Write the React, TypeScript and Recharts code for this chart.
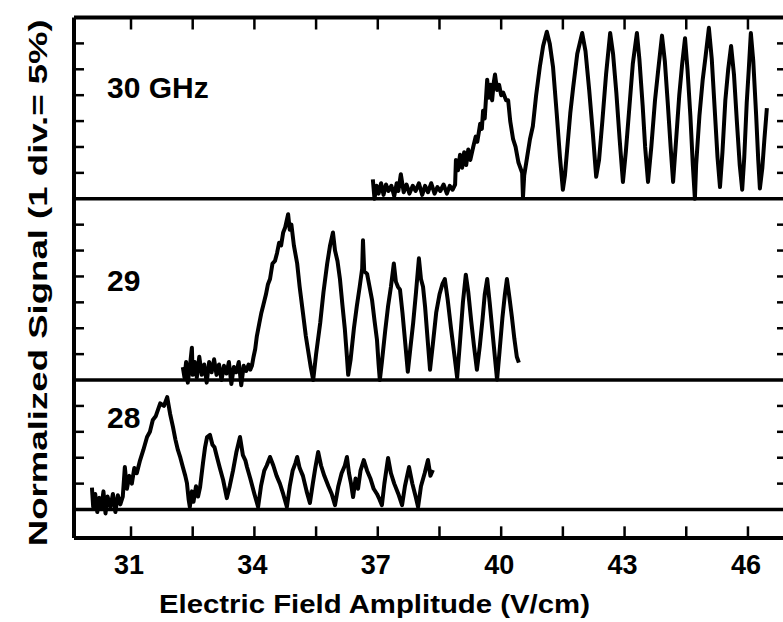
import { LineChart, Line, XAxis, YAxis, ReferenceLine, ReferenceDot } from "recharts";

const font = "'Liberation Sans', Arial, sans-serif";

// 30 GHz trace: field (V/cm) and signal (divisions above panel baseline)
const field30 = [
  36.88, 36.92, 36.97, 37.02, 37.08, 37.14, 37.2, 37.26, 37.33, 37.4, 37.46, 37.5, 37.56, 37.63, 37.7, 37.77,
  37.85, 37.92, 38.0, 38.08, 38.15, 38.22, 38.3, 38.38, 38.45, 38.52, 38.6, 38.68, 38.75, 38.82, 38.88,
  38.9, 38.95, 39.0, 39.05, 39.1, 39.15, 39.2, 39.25, 39.32, 39.38, 39.42, 39.49, 39.53, 39.56, 39.6, 39.66,
  39.7, 39.74, 39.78, 39.82, 39.85, 39.9, 39.95, 40.0, 40.05, 40.12, 40.17, 40.22, 40.29, 40.35, 40.42, 40.51,
  40.53, 40.56, 40.63, 40.7, 40.77, 40.85, 40.94, 41.02, 41.11, 41.18, 41.26, 41.35, 41.43, 41.5, 41.55, 41.62,
  41.68, 41.75, 41.85, 41.97, 42.05, 42.14, 42.23, 42.31, 42.38, 42.46, 42.55, 42.65, 42.72, 42.8, 42.88, 42.96,
  43.03, 43.12, 43.2, 43.3, 43.36, 43.44, 43.5, 43.57, 43.65, 43.74, 43.82, 43.91, 43.98, 44.05, 44.12, 44.18,
  44.25, 44.33, 44.4, 44.47, 44.53, 44.6, 44.66, 44.71, 44.74, 44.82, 44.9, 44.97, 45.05, 45.12, 45.19, 45.26,
  45.32, 45.38, 45.45, 45.52, 45.59, 45.66, 45.73, 45.8, 45.86, 45.91, 45.97, 46.02, 46.07, 46.13, 46.2, 46.25,
  46.29, 46.35, 46.4, 46.46,
];
const signal30 = [
  0.75, 0.0, 0.5, 0.2, 0.6, 0.15, 0.55, 0.3, 0.5, 0.1, 0.6, 0.3, 0.95, 0.25, 0.55, 0.2,
  0.5, 0.3, 0.6, 0.15, 0.5, 0.25, 0.6, 0.2, 0.45, 0.3, 0.55, 0.2, 0.5, 0.35, 0.55,
  1.5, 1.1, 1.7, 1.2, 1.8, 1.3, 1.9, 1.5, 2.0, 2.4, 2.2, 2.9, 2.7, 3.4, 3.1, 4.6,
  3.9, 4.4, 3.8, 4.5, 4.8, 4.2, 4.4, 4.0, 4.1, 3.8, 3.8, 3.0, 2.3, 2.0, 1.4, 1.0,
  0.05, 0.9, 1.6, 2.3, 2.8, 4.0, 5.1, 5.9, 6.45, 6.0, 5.1, 3.3, 1.6, 0.35, 0.9, 2.2,
  3.3, 4.3, 5.6, 6.4, 5.7, 4.2, 2.5, 0.85, 1.5, 3.0, 4.8, 6.4, 5.6, 4.1, 2.3, 0.65,
  1.8, 3.6, 5.2, 6.4, 5.4, 3.6, 2.0, 0.65, 2.0, 3.8, 5.0, 6.3, 5.3, 3.7, 2.0, 0.65,
  2.2, 4.0, 5.2, 6.2, 5.0, 3.2, 1.3, 0.0, 1.3, 3.2, 4.6, 5.5, 6.6, 5.4, 3.5, 1.6,
  0.45, 1.8, 3.8, 5.0, 5.9, 4.8, 3.0, 1.3, 0.35, 1.6, 3.7, 5.0, 6.4, 5.3, 3.2, 1.5,
  0.4, 1.2, 2.3, 3.5,
];

// 29 GHz trace
const field29 = [
  32.26, 32.3, 32.34, 32.38, 32.43, 32.48, 32.5, 32.55, 32.6, 32.66, 32.72, 32.78, 32.84, 32.9, 32.96, 33.02,
  33.08, 33.14, 33.2, 33.26, 33.32, 33.38, 33.44, 33.5, 33.56, 33.62, 33.68, 33.74, 33.8, 33.86, 33.9, 33.94,
  33.98, 34.02, 34.06, 34.12, 34.17, 34.21, 34.28, 34.33, 34.38, 34.44, 34.5, 34.55, 34.6, 34.65, 34.7, 34.75,
  34.82, 34.86, 34.9, 34.96, 35.04, 35.1, 35.18, 35.25, 35.3, 35.37, 35.43, 35.5, 35.6, 35.68, 35.77, 35.84,
  35.91, 35.96, 36.02, 36.08, 36.14, 36.2, 36.25, 36.28, 36.34, 36.42, 36.49, 36.56, 36.62, 36.64, 36.67, 36.74,
  36.8, 36.86, 36.92, 36.98, 37.02, 37.05, 37.1, 37.18, 37.25, 37.32, 37.39, 37.44, 37.49, 37.54, 37.6, 37.66,
  37.73, 37.79, 37.86, 37.93, 38.0, 38.05, 38.1, 38.15, 38.21, 38.27, 38.34, 38.42, 38.5, 38.57, 38.63, 38.7,
  38.78, 38.86, 38.93, 39.0, 39.07, 39.14, 39.2, 39.27, 39.34, 39.41, 39.48, 39.55, 39.6, 39.66, 39.72, 39.78,
  39.84, 39.9, 39.96, 40.03, 40.09, 40.14, 40.2, 40.26, 40.32, 40.38, 40.43,
];
const signal29 = [
  0.5, 0.1, 0.7, -0.1, 0.5, 1.25, 0.2, 0.7, 0.1, 0.9, 0.2, 0.6, -0.1, 0.7, 0.3, 0.8,
  0.2, 0.6, 0.0, 0.55, 0.25, 0.7, -0.15, 0.5, 0.3, 0.7, -0.2, 0.55, 0.35, 0.6, 0.4, 0.55,
  0.9, 1.2, 1.7, 2.2, 2.6, 2.85, 3.3, 3.7, 3.9, 4.5, 4.6, 4.9, 5.3, 5.2, 5.7, 5.9,
  6.4, 5.8, 6.0, 5.2, 4.5, 3.6, 2.6, 1.7, 1.2, 0.5, 0.0, 1.0, 2.2, 3.4, 4.5, 5.2,
  5.7, 5.0, 4.6, 3.9, 2.9, 1.95, 0.9, 0.2, 0.8, 2.0, 2.85, 3.6, 4.3, 5.4, 4.2, 4.1,
  3.6, 3.1, 2.3, 1.56, 0.6, 0.0, 0.7, 1.9, 2.85, 3.6, 4.5, 3.8, 3.6, 3.49, 2.6, 1.56,
  0.32, 1.2, 2.2, 3.4, 4.7, 3.9, 3.6, 2.83, 1.6, 0.4, 1.4, 2.6, 3.3, 3.7, 3.9, 3.1,
  2.0, 1.0, 0.09, 1.5, 3.0, 4.07, 3.4, 2.3, 1.3, 0.4, 1.3, 2.4, 3.3, 3.9, 3.0, 2.0,
  1.0, 0.01, 1.1, 2.4, 3.3, 3.9, 3.2, 2.44, 1.6, 0.9, 0.67,
];

// 28 GHz trace
const field28 = [
  30.05, 30.08, 30.13, 30.18, 30.23, 30.28, 30.33, 30.38, 30.43, 30.5, 30.56, 30.62, 30.68, 30.74, 30.8, 30.85,
  30.9, 30.96, 31.02, 31.08, 31.14, 31.22, 31.3, 31.39, 31.46, 31.53, 31.6, 31.71, 31.8, 31.88, 31.95, 32.02,
  32.08, 32.14, 32.2, 32.26, 32.32, 32.36, 32.4, 32.43, 32.48, 32.52, 32.58, 32.63, 32.68, 32.75, 32.8, 32.85,
  32.92, 32.98, 33.03, 33.09, 33.16, 33.24, 33.33, 33.4, 33.48, 33.56, 33.65, 33.72, 33.78, 33.82, 33.9, 34.0,
  34.09, 34.16, 34.24, 34.3, 34.38, 34.46, 34.54, 34.62, 34.7, 34.79, 34.86, 34.93, 35.0, 35.04, 35.1, 35.18,
  35.27, 35.35, 35.42, 35.48, 35.55, 35.62, 35.7, 35.8, 35.88, 35.96, 36.04, 36.12, 36.2, 36.25, 36.3, 36.35,
  36.4, 36.46, 36.52, 36.58, 36.66, 36.74, 36.82, 36.9, 36.98, 37.04, 37.1, 37.16, 37.25, 37.32, 37.4, 37.5,
  37.59, 37.66, 37.76, 37.84, 37.92, 37.98, 38.05, 38.14, 38.22, 38.28, 38.34,
];
const signal28 = [
  0.85, 0.1, 0.6, -0.1, 0.45, 0.1, 0.7, -0.15, 0.5, 0.1, 0.6, -0.1, 0.55, 0.2, 0.5, 1.64,
  0.8, 1.3, 1.0, 1.6, 1.4, 1.9, 2.3, 2.8, 3.0, 3.46, 3.6, 4.1, 4.0, 4.34, 3.7, 3.19,
  2.7, 2.3, 2.0, 1.64, 1.3, 1.02, 0.4, 0.1, 0.7, 0.3, 0.9, 0.5, 0.87, 1.8, 2.4, 2.8,
  2.88, 2.5, 2.4, 2.03, 1.6, 1.14, 0.44, 0.9, 1.5, 2.2, 2.8, 2.1, 1.9, 1.64, 1.2, 0.6,
  0.1, 0.9, 1.5, 1.7, 2.03, 1.7, 1.3, 1.0, 0.6, 0.1, 0.9, 1.5, 1.8, 2.03, 1.6, 1.3,
  0.7, 0.25, 1.0, 1.6, 2.22, 1.7, 1.3, 0.9, 0.6, 0.17, 0.9, 1.4, 1.7, 2.03, 1.4, 1.0,
  0.48, 1.2, 0.8, 1.5, 1.91, 1.5, 1.2, 0.8, 0.6, 0.4, 0.17, 1.0, 1.99, 1.4, 1.0, 0.6,
  0.17, 0.9, 1.64, 1.0, 0.5, 0.1, 0.9, 1.4, 1.91, 1.3, 1.53,
];

const panelNames = ["30 GHz", "29", "28"];
const edgeTicks = [31, 32.5, 34, 35.5, 37, 38.5, 40, 41.5, 43, 44.5, 46];
const tickLabels = [31, 34, 37, 40, 43, 46];
const divTicks = [1, 2, 3, 4, 6, 7, 8, 9, 10, 11, 13, 14, 15, 16, 17, 18];

// layout: panels stacked in one chart, y measured in divisions
const X_DOMAIN = [29.614, 46.925];
const Y_DOMAIN = [-1.1, 19];
const BASELINES = [12, 5, 0];
const LABEL_AT = [16.3, 8.86, 3.57];
const TICK_LEN = 0.45; // bottom inward tick length, in divisions

const toRows = (xs: number[], ys: number[], base: number) =>
  xs.map((x, i) => ({ x, y: ys[i] + base }));

const traces = [
  toRows(field30, signal30, BASELINES[0]),
  toRows(field29, signal29, BASELINES[1]),
  toRows(field28, signal28, BASELINES[2]),
];

// bottom axis only prints the numbers; the marks are reference segments
const BottomLabel = ({ x, y, payload }: any) =>
  tickLabels.includes(payload.value) ? (
    <text x={x - 2} y={y + 36} textAnchor="middle" fontSize={27} fontWeight="bold" fontFamily={font} fill="#000">
      {payload.value}
    </text>
  ) : (
    <g />
  );

const TopTick = ({ x, y }: any) => (
  <line x1={x} x2={x} y1={y} y2={y + 12} stroke="#000" strokeWidth={2.5} />
);

const LeftTick = ({ x, y }: any) => (
  <line x1={x} x2={x + 10} y1={y} y2={y} stroke="#000" strokeWidth={2.5} />
);

const RightTick = ({ x, y }: any) => (
  <line x1={x} x2={x - 9} y1={y} y2={y} stroke="#000" strokeWidth={2.5} />
);

const XTitle = ({ viewBox }: any) => (
  <text
    x={viewBox.x + viewBox.width * 0.422}
    y={viewBox.y + 75}
    textAnchor="middle"
    fontSize={26}
    fontWeight="bold"
    fontFamily={font}
    fill="#000"
    textLength={431}
    lengthAdjust="spacingAndGlyphs"
  >
    Electric Field Amplitude (V/cm)
  </text>
);

const YTitle = ({ viewBox }: any) => {
  const cx = viewBox.x + viewBox.width - 27;
  const cy = viewBox.y + viewBox.height / 2 + 5;
  return (
    <text
      x={cx}
      y={cy}
      transform={`rotate(-90 ${cx} ${cy})`}
      textAnchor="middle"
      fontSize={26}
      fontWeight="bold"
      fontFamily={font}
      fill="#000"
      textLength={527}
      lengthAdjust="spacingAndGlyphs"
    >
      Normalized Signal (1 div.= 5%)
    </text>
  );
};

const PanelLabel = ({ viewBox, text }: any) => (
  <text
    x={viewBox.x + viewBox.width / 2}
    y={viewBox.y + viewBox.height / 2}
    dominantBaseline="central"
    fontSize={30}
    fontWeight="bold"
    fontFamily={font}
    fill="#000"
  >
    {text}
  </text>
);

export default function App() {
  return (
    <div style={{ position: "absolute", left: 0, top: 0, width: 783, height: 622, overflow: "hidden", background: "#fff" }}>
      <LineChart width={790} height={622} margin={{ top: 0, right: 0, bottom: 0, left: 0 }}>
        <XAxis
          dataKey="x"
          type="number"
          domain={X_DOMAIN}
          allowDataOverflow
          ticks={edgeTicks}
          interval={0}
          height={84}
          tickSize={0}
          tickMargin={0}
          axisLine={false}
          tickLine={false}
          tick={<BottomLabel />}
          label={<XTitle />}
        />
        <XAxis
          xAxisId="top"
          orientation="top"
          dataKey="x"
          type="number"
          domain={X_DOMAIN}
          allowDataOverflow
          ticks={edgeTicks}
          interval={0}
          height={17.5}
          tickSize={0}
          tickMargin={0}
          axisLine={false}
          tickLine={false}
          tick={<TopTick />}
        />
        <YAxis
          type="number"
          domain={Y_DOMAIN}
          allowDataOverflow
          ticks={divTicks}
          interval={0}
          width={74}
          tickSize={0}
          tickMargin={0}
          axisLine={false}
          tickLine={false}
          tick={<LeftTick />}
          label={<YTitle />}
        />
        <YAxis
          yAxisId="right"
          orientation="right"
          type="number"
          domain={Y_DOMAIN}
          allowDataOverflow
          ticks={divTicks}
          interval={0}
          width={4}
          tickSize={0}
          tickMargin={0}
          axisLine={false}
          tickLine={false}
          tick={<RightTick />}
        />
        <ReferenceLine y={Y_DOMAIN[1]} stroke="#000" strokeWidth={4} />
        <ReferenceLine y={Y_DOMAIN[0]} stroke="#000" strokeWidth={4} />
        <ReferenceLine x={X_DOMAIN[0]} stroke="#000" strokeWidth={4} />
        {BASELINES.map((b) => (
          <ReferenceLine key={b} y={b} stroke="#000" strokeWidth={3.5} />
        ))}
        {edgeTicks.map((t) => (
          <ReferenceLine
            key={`bt-${t}`}
            segment={[
              { x: t, y: Y_DOMAIN[0] },
              { x: t, y: Y_DOMAIN[0] + TICK_LEN },
            ]}
            stroke="#000"
            strokeWidth={2.5}
          />
        ))}
        {panelNames.map((name, i) => (
          <ReferenceDot
            key={name}
            x={30.416}
            y={LABEL_AT[i]}
            r={1}
            fill="none"
            stroke="none"
            label={<PanelLabel text={name} />}
          />
        ))}
        {traces.map((rows, i) => (
          <Line
            key={panelNames[i]}
            data={rows}
            dataKey="y"
            type="linear"
            dot={false}
            stroke="#000"
            strokeWidth={4}
            strokeLinejoin="round"
            isAnimationActive={false}
          />
        ))}
      </LineChart>
    </div>
  );
}
